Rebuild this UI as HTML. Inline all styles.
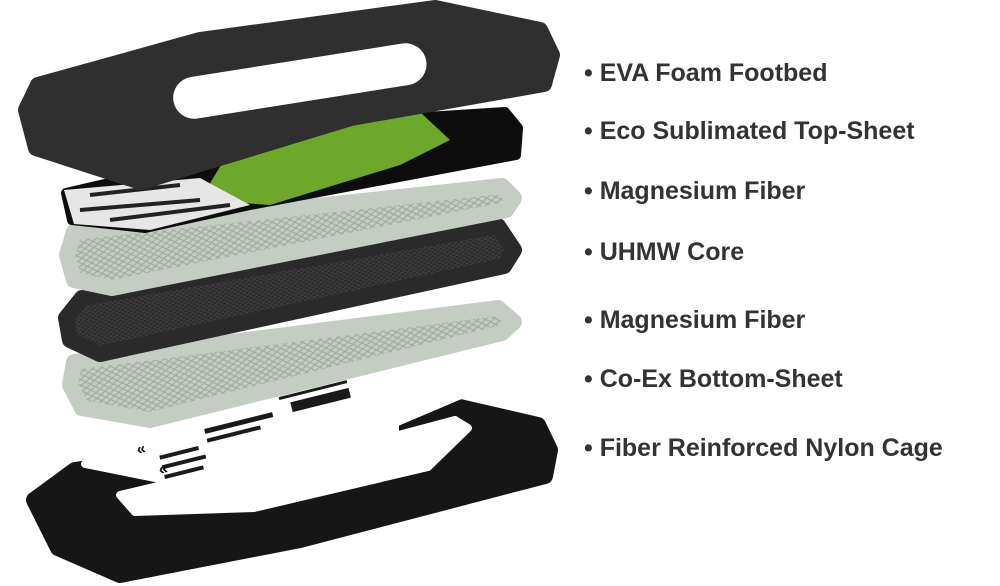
<!DOCTYPE html>
<html><head><meta charset="utf-8"><style>
html,body{margin:0;padding:0;background:#fff;}
.wrap{position:relative;width:1000px;height:586px;overflow:hidden;}
.l{position:absolute;left:584px;font-family:"Liberation Sans",sans-serif;font-weight:bold;font-size:25px;color:#333;white-space:nowrap;line-height:1;}
svg{position:absolute;left:0;top:0;}
</style></head><body><div class="wrap">
<svg width="1000" height="586" viewBox="0 0 1000 586">
<defs>
<pattern id="mesh" width="9" height="6" patternUnits="userSpaceOnUse" patternTransform="rotate(-8)">
<rect width="9" height="6" fill="#c4ccc4"/><path d="M0 3L4.5 0L9 3L4.5 6Z" fill="none" stroke="#9ea69e" stroke-width="1"/></pattern>
<pattern id="dmesh" width="6" height="4" patternUnits="userSpaceOnUse" patternTransform="rotate(-8)">
<rect width="6" height="4" fill="#2a2a2a"/><path d="M0 2L3 0L6 2L3 4Z" fill="none" stroke="#404040" stroke-width="0.8"/></pattern>
</defs>
<!-- nylon cage -->
<path d="M34,500 L75,470 L395,423 L460,407 L538,425 L550,450 L545,476 L300,540 L120,575 L58,548 Z" fill="#161616" stroke="#161616" stroke-width="16" stroke-linejoin="round"/>
<!-- co-ex bottom sheet -->
<path d="M130,420 L430,365 L468,392 L395,423 L395,436 L455,420 L468,428 L428,467 L254,508 L135,512 L120,495 L175,482 L85,464 L140,445 Z" fill="#fff" stroke="#fff" stroke-width="8" stroke-linejoin="round"/>
<g fill="#1a1a1a" transform="rotate(-14 300 400)">
<rect x="280" y="380" width="90" height="5"/><rect x="280" y="392" width="70" height="3"/><rect x="290" y="400" width="60" height="10"/>
<rect x="200" y="405" width="70" height="5"/><rect x="200" y="415" width="55" height="4"/><rect x="150" y="420" width="40" height="4"/>
<rect x="150" y="430" width="45" height="4"/><rect x="150" y="440" width="40" height="4"/><rect x="380" y="372" width="55" height="5"/></g>
<text x="138" y="455" font-family="Liberation Sans" font-weight="bold" font-size="16" fill="#111" transform="rotate(-14 138 455)">«</text>
<text x="160" y="475" font-family="Liberation Sans" font-weight="bold" font-size="16" fill="#111" transform="rotate(-14 160 475)">«</text>
<!-- mg2 -->
<path d="M74,362 L498,308 L514,322 L502,333 L150,420 L82,408 L70,385 Z" fill="url(#mesh)" stroke="#c4ccc4" stroke-width="16" stroke-linejoin="round"/>
<!-- uhmw -->
<path d="M82,298 L498,226 L514,250 L504,266 L100,354 L70,340 L66,318 Z" fill="url(#dmesh)" stroke="#2a2a2a" stroke-width="16" stroke-linejoin="round"/>
<!-- mg1 -->
<path d="M74,232 L502,186 L514,198 L506,210 L112,288 L74,280 L67,255 Z" fill="url(#mesh)" stroke="#c4ccc4" stroke-width="16" stroke-linejoin="round"/>
<!-- top sheet -->
<path d="M66,193 L380,120 L505,112 L518,128 L516,155 L250,205 L145,228 L72,220 Z" fill="#0d0d0d" stroke="#0d0d0d" stroke-width="10" stroke-linejoin="round"/>
<path d="M200,200 L230,150 L330,120 L420,112 L450,140 L400,165 L270,205 Z" fill="#6ea82a"/>
<path d="M64,190 L200,178 L250,205 L150,230 L74,224 Z" fill="#e6e6e6"/>
<path d="M90,195 L180,185 M80,210 L200,200 M110,220 L230,205" stroke="#222" stroke-width="4"/>
<!-- footbed -->
<path d="M38,85 L200,40 L435,8 L540,30 L552,55 L544,84 L351,118 L141,182 L36,148 L26,110 Z" fill="#2f2f2f" stroke="#2f2f2f" stroke-width="16" stroke-linejoin="round"/>
<rect x="172" y="60" width="256" height="42" rx="21" transform="rotate(-9 300 82)" fill="#fff"/>
</svg>
<div class="l" style="top:61px">• EVA Foam Footbed</div>
<div class="l" style="top:119px">• Eco Sublimated Top-Sheet</div>
<div class="l" style="top:179px">• Magnesium Fiber</div>
<div class="l" style="top:240px">• UHMW Core</div>
<div class="l" style="top:308px">• Magnesium Fiber</div>
<div class="l" style="top:367px">• Co-Ex Bottom-Sheet</div>
<div class="l" style="top:436px">• Fiber Reinforced Nylon Cage</div>
</div></body></html>
